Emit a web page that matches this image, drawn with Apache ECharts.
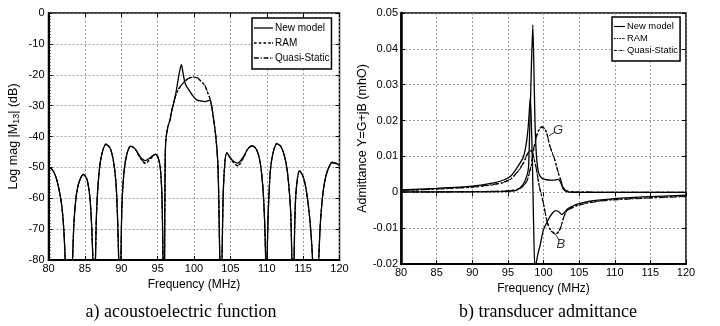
<!DOCTYPE html>
<html>
<head>
<meta charset="utf-8">
<script src="https://cdn.jsdelivr.net/npm/echarts@6/dist/echarts.min.js"></script>
<style>
  html, body { margin: 0; padding: 0; background: #fff; }
  #chart { width: 720px; height: 326px; }
</style>
</head>
<body>
<div id="chart"></div>
<script>
// a) acoustoelectric function, Log mag |M13| (dB)
const freqA = [80.0, 80.3, 80.8, 81.3, 81.8, 82.1, 82.3, 82.6, 83.0, 83.3, 83.5, 83.8, 84.2, 84.8, 85.3, 85.7, 85.95, 86.1, 86.25, 86.45,
  86.6, 86.9, 87.3, 87.9, 88.5, 89.0, 89.3, 89.5, 89.65, 89.8, 89.95, 90.1, 90.4, 90.8, 91.3, 91.9, 92.6, 93.3, 94.0, 94.7,
  95.1, 95.4, 95.6, 95.75, 95.9, 96.0, 96.1, 96.4, 96.7, 97.0, 97.4, 97.85, 98.05, 98.27, 98.45, 98.8, 99.4, 99.9, 100.4, 101.0,
  101.5, 102.0, 102.2, 102.45, 102.7, 103.0, 103.3, 103.55, 103.7, 103.85, 104.0, 104.2, 104.5, 105.2, 106.0, 106.8, 107.4, 108.0, 108.6, 109.1,
  109.45, 109.7, 109.85, 109.95, 110.05, 110.2, 110.5, 110.9, 111.4, 112.0, 112.6, 113.0, 113.3, 113.45, 113.6, 113.75, 113.9, 114.1, 114.5, 115.0,
  115.4, 115.8, 116.1, 116.3, 116.5, 117.0, 117.15, 117.4, 117.8, 118.3, 119.0, 119.6, 120.0];
const newModelA = [-50.0, -50.2, -51.8, -55.5, -62, -70, -80, -95, -95, -80, -68, -59.5, -54.8, -52.3, -54, -60, -70, -80, -95, -80,
  -65, -53, -46, -42.6, -44, -49, -56, -67, -80, -95, -80, -62, -51, -45.5, -43.2, -44, -46.5, -47.8, -46.8, -45.8,
  -47, -51, -60, -80, -95, -60, -42, -37, -34.6, -31, -27.3, -21.2, -18.5, -16.7, -18.8, -22.9, -25.3, -27.0, -28.2, -28.5,
  -28.7, -28.4, -28.2, -30.5, -34.6, -40, -50, -80, -95, -80, -60, -50, -45.4, -47.5, -48.6, -46.5, -44, -43.1, -44.3, -48.5,
  -56, -67, -80, -95, -80, -65, -51, -45, -42.4, -43.5, -48, -55, -65, -80, -95, -80, -64, -56, -51.2, -53,
  -57, -64, -72, -80, -95, -95, -80, -67, -57, -51.5, -48.5, -48.8, -49.4];
const ramA = [-50.0, -50.2, -51.8, -55.5, -62, -70, -80, -95, -95, -80, -68, -59.5, -54.8, -52.2, -54, -60, -70, -80, -95, -80,
  -65, -53, -46, -42.4, -43.8, -49, -56, -67, -80, -95, -80, -62, -51, -45.5, -43.0, -44, -47, -48.8, -47.3, -45.7,
  -47, -51, -60, -80, -95, -60, -42, -37, -34.6, -31, -27.3, -24.8, -24.1, -23.4, -22.9, -22.0, -21.1, -20.8, -21.0, -22.2,
  -23.6, -26.6, -27.8, -30.5, -34.6, -40, -50, -80, -95, -80, -60, -50, -45.2, -47.8, -49.6, -47.0, -44, -42.9, -44.1, -48.5,
  -56, -67, -80, -95, -80, -65, -51, -45, -42.2, -43.4, -48, -55, -65, -80, -95, -80, -64, -56, -51.0, -53,
  -57, -64, -72, -80, -95, -95, -80, -67, -57, -51.3, -48.3, -48.7, -49.3];
const qsA = [-50.0, -50.2, -51.8, -55.5, -62, -70, -80, -95, -95, -80, -68, -59.5, -54.8, -52.3, -54, -60, -70, -80, -95, -80,
  -65, -53, -46, -42.5, -43.9, -49, -56, -67, -80, -95, -80, -62, -51, -45.5, -43.1, -44, -46.8, -48.5, -47.1, -45.8,
  -47, -51, -60, -80, -95, -60, -42, -37, -34.6, -31, -27.3, -24.7, -24.0, -23.3, -22.8, -21.9, -21.0, -20.7, -20.9, -22.1,
  -23.5, -26.5, -27.8, -30.5, -34.6, -40, -50, -80, -95, -80, -60, -50, -45.3, -47.7, -49.4, -46.8, -44, -43.0, -44.2, -48.5,
  -56, -67, -80, -95, -80, -65, -51, -45, -42.3, -43.5, -48, -55, -65, -80, -95, -80, -64, -56, -51.1, -53,
  -57, -64, -72, -80, -95, -95, -80, -67, -57, -51.4, -48.4, -48.8, -49.4];

// b) transducer admittance, G (conductance) and B (susceptance)
const freqG = [80, 85, 90, 94, 95.5, 96.25, 96.8, 97.2, 97.65, 97.9, 98.1, 98.3, 98.5, 98.65, 98.8, 99.0, 99.3, 99.75, 100.2, 100.45,
  100.9, 101.6, 102.1, 102.4, 102.8, 103.4, 104.5, 110, 120];
const newModelG = [0.0001, 0.0001, 0.0001, 0.0002, 0.0003, 0.0006, 0.0014, 0.0024, 0.0045, 0.007, 0.02, 0.035, 0.0467, 0.035, 0.02, 0.0105, 0.0055, 0.004, 0.0036, 0.0035,
  0.0034, 0.0034, 0.0036, 0.0028, 0.0008, 0.0001, 0, 0, 0];
const ramG = [0.0001, 0.0001, 0.0002, 0.0003, 0.0005, 0.0008, 0.0012, 0.0018, 0.003, 0.0045, 0.006, 0.0075, 0.0103, 0.0122, 0.0135, 0.0153, 0.0171, 0.0181, 0.0175, 0.0164,
  0.0128, 0.0089, 0.0052, 0.0035, 0.0012, 0.0003, 0.0001, 0, 0];
const qsG = [0.0001, 0.0001, 0.0002, 0.0003, 0.0005, 0.0008, 0.0012, 0.0019, 0.0031, 0.0046, 0.0062, 0.0078, 0.0106, 0.0125, 0.0138, 0.0156, 0.0173, 0.0183, 0.0177, 0.0166,
  0.013, 0.009, 0.0053, 0.0036, 0.0012, 0.0003, 0.0001, 0, 0];

const freqB = [80, 85, 90, 93, 94.5, 95.5, 96.5, 97.2, 97.65, 97.9, 98.15, 98.3, 98.45, 98.6, 98.8, 99.05, 99.3, 99.5, 99.98, 100.45,
  100.9, 101.4, 101.75, 102.2, 102.55, 102.85, 103.25, 103.5, 104.65, 106.5, 109.3, 114, 120];
const newModelB = [0.0007, 0.0011, 0.0017, 0.0026, 0.0035, 0.0047, 0.0075, 0.01, 0.0145, 0.0194, 0.0265, 0.019, 0.008, -0.008, -0.0215, -0.0189, -0.0165, -0.015, -0.0105, -0.0085,
  -0.0068, -0.0055, -0.0051, -0.0055, -0.0062, -0.0058, -0.0049, -0.0045, -0.0034, -0.0025, -0.0019, -0.0013, -0.0008];
const ramB = [0.0005, 0.0009, 0.0014, 0.0021, 0.0028, 0.0038, 0.006, 0.0082, 0.0102, 0.011, 0.0115, 0.0114, 0.0108, 0.0098, 0.0082, 0.0058, 0.0028, 0.0008, -0.003, -0.0077,
  -0.0102, -0.0112, -0.0116, -0.0107, -0.0088, -0.0068, -0.0052, -0.0048, -0.0037, -0.0028, -0.0021, -0.0016, -0.0011];
const qsB = [0.0005, 0.0009, 0.0015, 0.0022, 0.0029, 0.0039, 0.0061, 0.0083, 0.0104, 0.0112, 0.0117, 0.0116, 0.011, 0.01, 0.0084, 0.006, 0.003, 0.0009, -0.0029, -0.0078,
  -0.0104, -0.0114, -0.0118, -0.0109, -0.009, -0.0069, -0.0053, -0.0049, -0.0038, -0.0029, -0.0022, -0.0017, -0.0012];

const legendNames = ['New model', 'RAM', 'Quasi-Static'];

const pairs = (xs, ys) => xs.map((x, i) => [x, ys[i]]);

const chart = echarts.init(document.getElementById('chart'));

const FONT = 'Liberation Sans';
const gridLine = { show: true, lineStyle: { color: '#8a8a8a', type: [2, 2], width: 0.8 } };

// legend samples drawn as little filled bars so the dash pattern shows
function legendIcons(t) {
  return {
    'New model': `path://M0,0H18V${t}H0Z`,
    'RAM': `path://M0,0H2.5V${t}H0Z M4.5,0H7V${t}H4.5Z M9,0H11.5V${t}H9Z M13.5,0H16V${t}H13.5Z M17,0H18V${t}H17Z`,
    'Quasi-Static': `path://M0,0H4.5V${t}H0Z M6.3,0H7.3V${t}H6.3Z M9.1,0H13.6V${t}H9.1Z M15.4,0H16.4V${t}H15.4Z M17.6,0H18V${t}H17.6Z`
  };
}

function mainX(gi, gap) {
  return {
    gridIndex: gi, type: 'value', min: 80, max: 120, interval: 5,
    axisLine: { onZero: false, lineStyle: { color: '#000', width: 2 } },
    axisTick: { inside: true, length: 4, lineStyle: { color: '#000' } },
    axisLabel: { color: '#000', fontSize: 11, margin: 3, fontFamily: FONT },
    splitLine: gridLine,
    name: 'Frequency (MHz)', nameLocation: 'middle', nameGap: gap,
    nameTextStyle: { color: '#000', fontSize: 12, fontFamily: FONT }
  };
}
function mirrorX(gi) {
  return {
    gridIndex: gi, type: 'value', min: 80, max: 120, interval: 5, position: 'top',
    axisLine: { show: false }, axisLabel: { show: false }, splitLine: { show: false },
    axisTick: { inside: true, length: 4, lineStyle: { color: '#000' } }
  };
}

const lineStyles = {
  'New model': { type: 'solid', width: 1.3 },
  'RAM': { type: [3, 2], width: 1.1 },
  'Quasi-Static': { type: [6, 2, 1.5, 2], width: 1.1 }
};

function mk(name, xi, yi, data, smooth, z) {
  return {
    type: 'line', name: name, xAxisIndex: xi, yAxisIndex: yi, data: data,
    symbol: 'none', smooth: smooth, z: z, animation: false,
    lineStyle: Object.assign({ color: '#000' }, lineStyles[name]),
    itemStyle: { color: '#000' }
  };
}

function legend(left, top, fs, iw, ih, gap, t) {
  const icons = legendIcons(t);
  return {
    data: legendNames.map(n => ({ name: n, icon: icons[n] })),
    orient: 'vertical', left: left, top: top,
    backgroundColor: '#fff', borderColor: '#000', borderWidth: 1.5,
    padding: [5, 2, 6, 2], itemGap: gap, itemWidth: iw, itemHeight: ih,
    selectedMode: false,
    textStyle: { color: '#000', fontSize: fs, fontFamily: FONT, padding: [0, 0, 0, -3] }
  };
}

chart.setOption({
  animation: false,
  grid: [
    { left: 48.5, top: 13, width: 291, height: 247, show: true, borderColor: '#000', borderWidth: 1.5 },
    { left: 401, top: 13, width: 285, height: 251, show: true, borderColor: '#000', borderWidth: 1.5 }
  ],
  legend: [legend(252, 18, 10, 19, 12, 5, 1.2), legend(612, 17, 9.4, 11, 11, 3, 1.9)],
  xAxis: [mainX(0, 12), mirrorX(0), mainX(1, 12), mirrorX(1)],
  yAxis: [
    {
      gridIndex: 0, type: 'value', min: -80, max: 0, interval: 10,
      axisLine: { onZero: false, lineStyle: { color: '#000', width: 2 } },
      axisTick: { inside: true, length: 4, lineStyle: { color: '#000' } },
      minorTick: { show: true, splitNumber: 10, length: 2, lineStyle: { color: '#000' } },
      axisLabel: { color: '#000', fontSize: 11, margin: 4, fontFamily: FONT },
      splitLine: gridLine,
      name: 'Log mag |M{s|13}| (dB)', nameLocation: 'middle', nameGap: 27, nameRotate: 90,
      nameTextStyle: { color: '#000', fontSize: 12.5, fontFamily: FONT,
        rich: { s: { fontSize: 9, fontFamily: FONT, color: '#000', padding: [6, 0, 0, 0] } } }
    },
    {
      gridIndex: 0, type: 'value', min: -80, max: 0, interval: 10, position: 'right',
      axisLine: { show: false }, axisLabel: { show: false }, splitLine: { show: false },
      axisTick: { inside: true, length: 4, lineStyle: { color: '#000' } }
    },
    {
      gridIndex: 1, type: 'value', min: -0.02, max: 0.05, interval: 0.01,
      axisLine: { onZero: false, lineStyle: { color: '#000', width: 2.5 } },
      axisTick: { inside: true, length: 4, lineStyle: { color: '#000' } },
      axisLabel: { color: '#000', fontSize: 11, margin: 3, fontFamily: FONT,
        formatter: v => String(+v.toFixed(2)) },
      splitLine: gridLine,
      name: 'Admittance Y=G+jB (mhO)', nameLocation: 'middle', nameGap: 18, nameRotate: 90,
      nameTextStyle: { color: '#000', fontSize: 12.5, fontFamily: FONT }
    },
    {
      gridIndex: 1, type: 'value', min: -0.02, max: 0.05, interval: 0.01, position: 'right',
      axisLine: { show: false }, axisLabel: { show: false }, splitLine: { show: false },
      axisTick: { inside: true, length: 4, lineStyle: { color: '#000' } }
    }
  ],
  series: [
    mk('Quasi-Static', 0, 0, pairs(freqA, qsA), 0.3, 2),
    mk('RAM', 0, 0, pairs(freqA, ramA), 0.3, 3),
    mk('New model', 0, 0, pairs(freqA, newModelA), 0.3, 4),

    mk('Quasi-Static', 2, 2, pairs(freqG, qsG), 0.25, 2),
    mk('Quasi-Static', 2, 2, pairs(freqB, qsB), 0.25, 2),
    mk('RAM', 2, 2, pairs(freqG, ramG), 0.25, 3),
    mk('RAM', 2, 2, pairs(freqB, ramB), 0.25, 3),
    mk('New model', 2, 2, pairs(freqG, newModelG), 0.2, 4),
    mk('New model', 2, 2, pairs(freqB, newModelB), 0.2, 4),

    {
      type: 'scatter', name: 'curve labels', xAxisIndex: 2, yAxisIndex: 2,
      symbolSize: 0, silent: true, z: 5,
      data: [
        { value: [102.05, 0.0172], label: { formatter: 'G' } },
        { value: [102.45, -0.0146], label: { formatter: 'B' } }
      ],
      label: { show: true, position: 'inside', color: '#000', fontSize: 13,
        fontStyle: 'italic', fontFamily: FONT },
      markLine: {
        silent: true, symbol: ['none', 'none'], label: { show: false },
        lineStyle: { color: '#000', type: 'solid', width: 0.8 },
        data: [
          [{ coord: [100.75, 0.0157] }, { coord: [101.55, 0.0168] }],
          [{ coord: [101.75, -0.0119] }, { coord: [102.2, -0.0134] }]
        ]
      }
    }
  ],
  graphic: [
    { type: 'text', x: 181, y: 312, style: { text: 'a) acoustoelectric function', fill: '#000',
      font: '18px "Liberation Serif"', textAlign: 'center', textVerticalAlign: 'middle' } },
    { type: 'text', x: 548, y: 312, style: { text: 'b) transducer admittance', fill: '#000',
      font: '18px "Liberation Serif"', textAlign: 'center', textVerticalAlign: 'middle' } }
  ]
});
</script>
</body>
</html>
